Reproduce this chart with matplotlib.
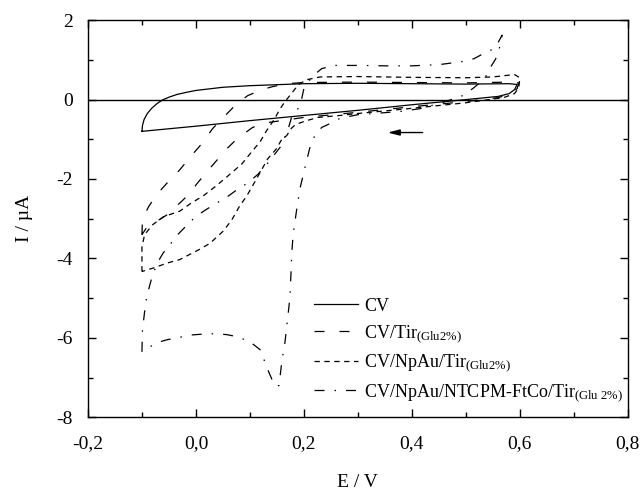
import matplotlib
matplotlib.use("Agg")
import matplotlib.pyplot as plt
from matplotlib.ticker import MultipleLocator, FuncFormatter

plt.rcParams['font.family'] = ['Liberation Serif', 'DejaVu Serif']
plt.rcParams['mathtext.fontset'] = 'custom'
plt.rcParams['mathtext.rm'] = 'Liberation Serif'
plt.rcParams['mathtext.it'] = 'Liberation Serif:italic'

# ---- data (E in V, I in µA) ----
labels = ["CV", r"CV/Tir$_{\mathrm{(Glu2\%)}}$", r"CV/NpAu/Tir$_{\mathrm{(Glu2\%)}}$",
          r"CV/NpAu/NTCPM-FtCo/Tir$_{\mathrm{(Glu\ 2\%)}}$"]

cv_E = [-0.1, -0.099, -0.096, -0.09, -0.082, -0.072, -0.062, -0.05, -0.035, -0.015, 0.0,
        0.05, 0.1, 0.2, 0.3, 0.4, 0.5, 0.58, 0.595, 0.59, 0.58, 0.56, 0.5, 0.4, 0.3, 0.2,
        0.1, 0.0, -0.1]
cv_I = [-0.8, -0.65, -0.5, -0.35, -0.22, -0.1, -0.01, 0.06, 0.13, 0.19, 0.23,
        0.31, 0.35, 0.4, 0.41, 0.4, 0.39, 0.4, 0.38, 0.25, 0.15, 0.08, 0.0, -0.13, -0.27,
        -0.4, -0.53, -0.67, -0.8]

tir_E = [-0.1, -0.099, -0.087, -0.07, -0.05, -0.03, -0.007, 0.011, 0.031, 0.05, 0.076, 0.096,
         0.122, 0.143, 0.169, 0.2, 0.3, 0.4, 0.5, 0.58, 0.598, 0.595, 0.585, 0.56, 0.5, 0.4,
         0.3, 0.2, 0.122, 0.104, 0.076, 0.057, 0.031, 0.017, 0.0, -0.007, -0.024, -0.052,
         -0.072, -0.09, -0.1]
tir_I = [-3.4, -3.0, -2.68, -2.35, -2.05, -1.77, -1.39, -1.11, -0.73, -0.46, -0.1, 0.1,
         0.25, 0.33, 0.4, 0.43, 0.44, 0.43, 0.42, 0.44, 0.42, 0.28, 0.15, 0.05, -0.05, -0.18,
         -0.32, -0.45, -0.6, -0.71, -0.99, -1.24, -1.65, -1.87, -2.15, -2.3, -2.53, -2.89,
         -3.06, -3.2, -3.4]

npau_E = [-0.1, -0.1, -0.095, -0.08, -0.06, -0.03, -0.008, 0.013, 0.035, 0.057, 0.085, 0.103,
          0.119, 0.13, 0.145, 0.156, 0.165, 0.175, 0.19, 0.205, 0.23, 0.3, 0.4, 0.5, 0.55,
          0.59, 0.6, 0.598, 0.59, 0.57, 0.5, 0.4, 0.3, 0.267, 0.226, 0.205, 0.19, 0.183,
          0.177, 0.168, 0.159, 0.149, 0.133, 0.124, 0.11, 0.094, 0.081, 0.066, 0.05, 0.026,
          0.007, -0.03, -0.054, -0.076, -0.1]
npau_I = [-4.33, -3.7, -3.4, -3.15, -2.95, -2.81, -2.6, -2.43, -2.2, -1.95, -1.62, -1.32,
          -1.06, -0.8, -0.5, -0.23, -0.05, 0.12, 0.38, 0.5, 0.57, 0.58, 0.56, 0.55, 0.57,
          0.63, 0.55, 0.3, 0.15, 0.05, -0.08, -0.22, -0.35, -0.4, -0.45, -0.53, -0.6, -0.65,
          -0.72, -0.91, -1.0, -1.24, -1.49, -1.71, -2.05, -2.43, -2.68, -3.04, -3.32, -3.62,
          -3.77, -4.03, -4.12, -4.23, -4.33]

ntc_E = [-0.1, -0.099, -0.093, -0.088, -0.08, -0.07, -0.061, -0.048, -0.033, -0.015, 0.0,
         0.02, 0.044, 0.06, 0.078, 0.096, 0.115, 0.133, 0.156, 0.17, 0.177, 0.189, 0.196,
         0.2, 0.21, 0.217, 0.233, 0.257, 0.3, 0.35, 0.4, 0.45, 0.467, 0.494, 0.515, 0.53,
         0.55, 0.559, 0.567,
         0.562, 0.555, 0.544, 0.535, 0.513, 0.494, 0.48, 0.45, 0.415, 0.378, 0.33, 0.3,
         0.267, 0.254, 0.233, 0.22, 0.211, 0.205, 0.193, 0.187, 0.18, 0.178, 0.174, 0.165,
         0.159, 0.154, 0.148, 0.143, 0.133, 0.119, 0.1, 0.076, 0.057, 0.04, 0.02, -0.01,
         -0.035, -0.054, -0.072, -0.1]
ntc_I = [-6.35, -5.8, -5.1, -4.8, -4.4, -4.08, -3.87, -3.65, -3.39, -3.14, -2.94,
         -2.76, -2.56, -2.43, -2.25, -2.1, -1.88, -1.6, -1.2, -0.78, -0.45, -0.23, 0.03,
         0.28, 0.48, 0.6, 0.78, 0.86, 0.86, 0.85, 0.85, 0.88, 0.91, 0.96, 1.03, 1.14,
         1.27, 1.42, 1.62,
         1.3, 1.02, 0.78, 0.53, 0.28, 0.1, 0.03, -0.1, -0.23, -0.3, -0.35, -0.38,
         -0.47, -0.57, -0.7, -0.91, -1.21, -1.54, -2.22, -2.73, -3.4, -3.77, -5.0, -6.1,
         -6.6, -7.2, -7.22, -7.12, -6.8, -6.3, -6.1, -5.97, -5.92, -5.9, -5.9, -5.93,
         -6.0, -6.05, -6.12, -6.35]

x_ticks = [-0.2, 0.0, 0.2, 0.4, 0.6, 0.8]
y_ticks = [-8, -6, -4, -2, 0, 2]

fig = plt.figure(figsize=(6.42, 4.92), dpi=100)
ax = fig.add_axes([0.137, 0.152, 0.841, 0.807])

lw = 0.9
ax.axhline(0, color='k', lw=1.0)
ax.plot(cv_E, cv_I, color='k', lw=lw, linestyle='-', label=labels[0])
ax.plot(tir_E, tir_I, color='k', lw=lw, linestyle=(0, (8, 12)), label=labels[1])
ax.plot(npau_E, npau_I, color='k', lw=lw, linestyle=(0, (4.3, 3.6)), label=labels[2])
ax.plot(ntc_E, ntc_I, color='k', lw=lw, linestyle=(0, (8, 8, 1.2, 8)), label=labels[3])

ax.annotate('', xy=(0.35, -0.83), xytext=(0.425, -0.83),
            arrowprops=dict(arrowstyle='-|>,head_length=0.7,head_width=0.18',
                            color='k', lw=1.0))

ax.set_xlim(-0.2, 0.8)
ax.set_ylim(-8, 2)
ax.set_xticks(x_ticks)
ax.set_yticks(y_ticks)
ax.xaxis.set_minor_locator(MultipleLocator(0.1))
ax.yaxis.set_minor_locator(MultipleLocator(1))
ax.xaxis.set_major_formatter(FuncFormatter(lambda v, p: f"{v:.1f}".replace('.', ',')))
ax.yaxis.set_major_formatter(FuncFormatter(lambda v, p: f"{int(round(v))}"))
ax.tick_params(which='both', direction='in', top=True, right=True, labelsize=14, width=1.0)
ax.tick_params(which='major', length=6)
ax.tick_params(axis='x', which='major', pad=13)
ax.tick_params(axis='y', which='major', pad=11)
ax.tick_params(which='minor', length=3.5)
for s in ax.spines.values():
    s.set_linewidth(1.0)

ax.set_xlabel('E / V', fontsize=14, labelpad=16)
ax.set_ylabel('I / µA', fontsize=14, labelpad=17)

leg = ax.legend(loc='upper left', bbox_to_anchor=(0.406, 0.319), frameon=False, fontsize=13,
                handlelength=2.4, handletextpad=0.35, labelspacing=0.45, borderaxespad=0)

fig.savefig('out.png', dpi=100)
